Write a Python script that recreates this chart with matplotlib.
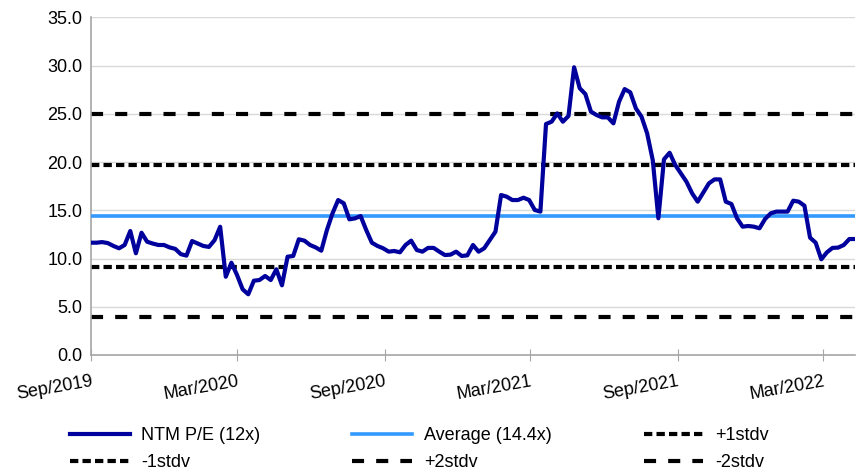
import matplotlib
matplotlib.use("Agg")
import matplotlib.pyplot as plt
import matplotlib.dates as mdates
import numpy as np
import pandas as pd

plt.rcParams['font.family'] = ['Liberation Sans', 'DejaVu Sans']

# weekly NTM P/E
start = "2019-09-01"
pe = [11.64, 11.64, 11.7, 11.6, 11.3, 11.06, 11.4, 12.85, 10.54, 12.67,
      11.74, 11.55, 11.4, 11.4, 11.15, 11.0, 10.45, 10.3, 11.81, 11.55,
      11.3, 11.2, 11.9, 13.29, 8.11, 9.56, 8.29, 6.81, 6.29, 7.7,
      7.77, 8.19, 7.77, 8.88, 7.22, 10.19, 10.26, 11.99, 11.85, 11.4,
      11.15, 10.81, 12.95, 14.68, 16.06, 15.72, 14.06, 14.16, 14.4, 12.95,
      11.64, 11.3, 11.06, 10.71, 10.78, 10.64, 11.4, 11.85, 10.88, 10.71,
      11.1, 11.1, 10.71, 10.36, 10.4, 10.71, 10.26, 10.33, 11.4, 10.71,
      11.06, 11.92, 12.78, 16.58, 16.41, 16.06, 16.06, 16.3, 16.06, 15.03,
      14.86, 23.94, 24.18, 25.04, 24.18, 24.77, 29.82, 27.65, 27.05, 25.22,
      24.87, 24.63, 24.63, 24.01, 26.25, 27.56, 27.22, 25.56, 24.7, 22.97,
      20.2, 14.17, 20.28, 20.96, 19.69, 18.83, 17.96, 16.76, 15.89, 16.83,
      17.79, 18.2, 18.2, 15.89, 15.65, 14.17, 13.3, 13.37, 13.3, 13.13,
      14.1, 14.68, 14.86, 14.86, 14.86, 15.99, 15.89, 15.47, 12.16, 11.64,
      9.92, 10.64, 11.1, 11.13, 11.4, 12.02, 12.02]
average = 14.4
plus1 = 19.7
minus1 = 9.15
plus2 = 25.0
minus2 = 3.9
tick_dates = ["2019-09-01", "2020-03-01", "2020-09-01",
              "2021-03-01", "2021-09-01", "2022-03-01"]

dates = pd.date_range(start, periods=len(pe), freq="7D")
n = len(pe)
fs = 13

fig = plt.figure(figsize=(8.58, 4.70), dpi=100)
ax = fig.add_axes([0.106, 0.2447, 0.8905, 0.7185])

ax.plot(dates, pe, color="#00009C", lw=3, label="NTM P/E (12x)", zorder=5)
ax.plot(dates, [average] * n, color="#3399FF", lw=2.6, label="Average (14.4x)", zorder=4)
short = (0, (2.0, 1.0))
long_ = (0, (2.9, 2.9))
ax.plot(dates, [plus1] * n, color="black", lw=3, ls=short, label="+1stdv")
ax.plot(dates, [minus1] * n, color="black", lw=3, ls=short, label="-1stdv")
ax.plot(dates, [plus2] * n, color="black", lw=3, ls=long_, label="+2stdv")
ax.plot(dates, [minus2] * n, color="black", lw=3, ls=long_, label="-2stdv")

ax.set_ylim(0, 35)
ax.set_yticks(np.arange(0, 36, 5))
ax.yaxis.set_major_formatter(plt.FormatStrFormatter("%.1f"))
ax.set_xlim(dates[0], dates[-1])
ax.set_xticks(pd.to_datetime(tick_dates))
ax.xaxis.set_major_formatter(mdates.DateFormatter("%b/%Y"))

ax.grid(axis="y", color="#d9d9d9", lw=1)
ax.set_axisbelow(True)
for s in ["top", "right"]:
    ax.spines[s].set_visible(False)
for s in ["left", "bottom"]:
    ax.spines[s].set_color("#a6a6a6")
    ax.spines[s].set_linewidth(1.2)

ax.tick_params(axis="y", length=0, labelsize=fs, pad=6)
ax.tick_params(axis="x", direction="inout", length=8, color="#a6a6a6", labelsize=fs, pad=9)
for lab in ax.get_xticklabels():
    lab.set_rotation(10)
    lab.set_ha("right")
    lab.set_va("top")
    lab.set_rotation_mode("anchor")

h, l = ax.get_legend_handles_labels()
order = [0, 3, 1, 4, 2, 5]
fig.legend([h[i] for i in order], [l[i] for i in order], ncol=3,
           loc="lower left", bbox_to_anchor=(0.071, -0.022),
           frameon=False, fontsize=fs, handlelength=3.3, handletextpad=0.65,
           columnspacing=5.1, labelspacing=0.55, borderaxespad=0.1)

fig.savefig("out.png", dpi=100)
